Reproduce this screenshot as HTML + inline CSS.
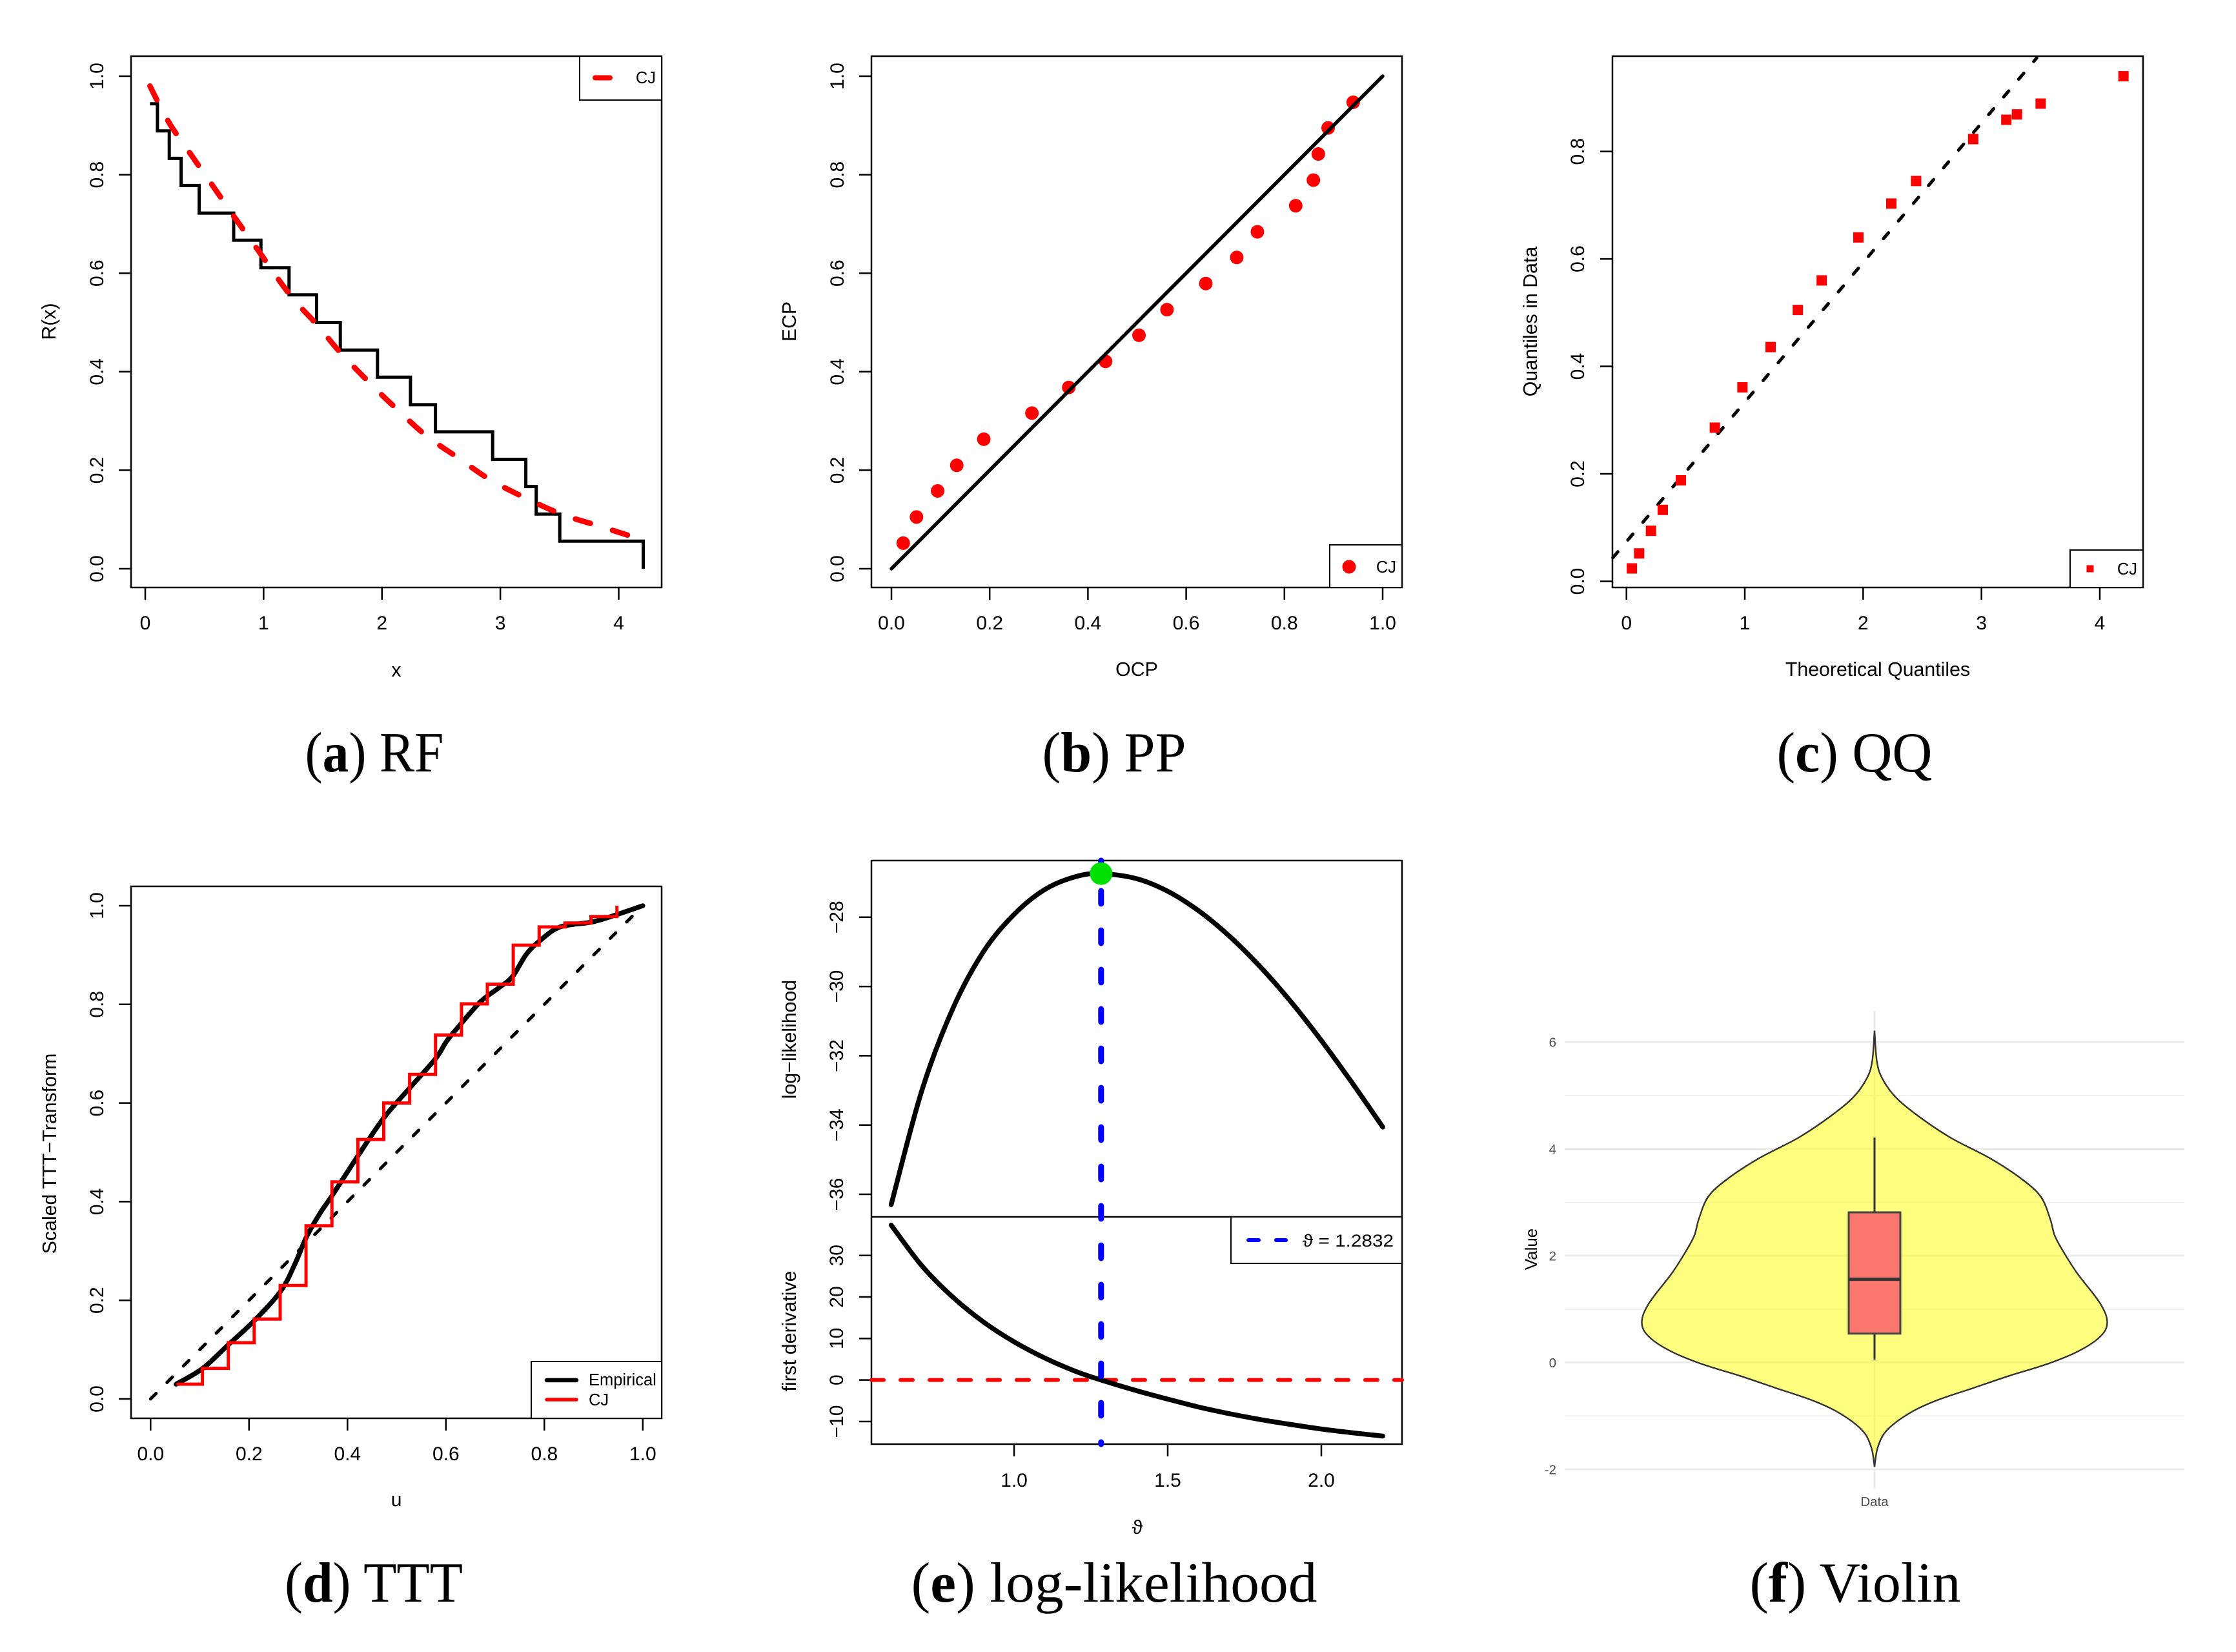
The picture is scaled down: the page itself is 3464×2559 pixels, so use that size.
<!DOCTYPE html>
<html lang="en">
<head>
<meta charset="utf-8">
<title>Diagnostic plots: RF, PP, QQ, TTT, log-likelihood, Violin</title>
<style>
html,body{margin:0;padding:0;background:#fff;}
svg{display:block;}
text{font-family:"Liberation Sans","DejaVu Sans",sans-serif;fill:#000;}
.cap{font-family:"Liberation Serif","DejaVu Serif",serif;font-size:88px;text-anchor:middle;}
.title{font-size:30.3px;text-anchor:middle;}
.leg{font-size:25.5px;}
.frame{fill:none;stroke:#000;stroke-width:2.5;}
.legbox{fill:#fff;stroke:#000;stroke-width:2;}
</style>
</head>
<body>
<svg id="fig" xmlns="http://www.w3.org/2000/svg" width="3464" height="2559" viewBox="0 0 3464 2559">
<rect width="3464" height="2559" fill="#fff"/>

<g id="pa">
  <rect class="frame" x="203" y="87" width="822" height="823"/>
  <text class="title" transform="rotate(-90 86 498)" x="86" y="498">R(x)</text>
  <text class="title" x="614" y="1048">x</text>
</g>
<g id="pb">
  <rect class="frame" x="1350" y="87" width="822" height="823"/>
  <text class="title" transform="rotate(-90 1233 498)" x="1233" y="498">ECP</text>
  <text class="title" x="1761" y="1047">OCP</text>
</g>
<g id="pc">
  <rect class="frame" x="2498" y="87" width="822" height="823"/>
  <text class="title" transform="rotate(-90 2381 498)" x="2381" y="498">Quantiles in Data</text>
  <text class="title" x="2909" y="1047">Theoretical Quantiles</text>
</g>
<g id="pd">
  <rect class="frame" x="203" y="1373" width="822" height="824"/>
  <text class="title" transform="rotate(-90 87 1787)" x="87" y="1787">Scaled TTT−Transform</text>
  <text class="title" x="614" y="2333">u</text>
</g>
<g id="pe">
  <rect class="frame" x="1350" y="1333" width="822" height="904"/>
  <line x1="1350" x2="2172" y1="1885" y2="1885" stroke="#000" stroke-width="2.5"/>
  <text class="title" transform="rotate(-90 1233 1610)" x="1233" y="1610">log−likelihood</text>
  <text class="title" transform="rotate(-90 1233 2062)" x="1233" y="2062">first derivative</text>
  <text class="title" x="1762" y="2376">ϑ</text>
</g>
<g id="pf">
  <text transform="rotate(-90 2381 1935)" x="2381" y="1935" font-size="26" text-anchor="middle">Value</text>
  <text x="2904" y="2333" font-size="20.5" text-anchor="middle" style="fill:#4d4d4d">Data</text>
</g>

<text class="cap" x="580" y="1195" textLength="215" lengthAdjust="spacingAndGlyphs">(<tspan font-weight="bold">a</tspan>) RF</text>
<text class="cap" x="1726" y="1195" textLength="223" lengthAdjust="spacingAndGlyphs">(<tspan font-weight="bold">b</tspan>) PP</text>
<text class="cap" x="2873" y="1195" textLength="241" lengthAdjust="spacingAndGlyphs">(<tspan font-weight="bold">c</tspan>) QQ</text>
<text class="cap" x="579" y="2481" textLength="276" lengthAdjust="spacingAndGlyphs">(<tspan font-weight="bold">d</tspan>) TTT</text>
<text class="cap" x="1726" y="2481" textLength="629" lengthAdjust="spacingAndGlyphs">(<tspan font-weight="bold">e</tspan>) log-likelihood</text>
<text class="cap" x="2874" y="2481" textLength="327" lengthAdjust="spacingAndGlyphs">(<tspan font-weight="bold">f</tspan>) Violin</text>
</svg>

<script>
/* ---------- data: RF panel ---------- */
const rfXTicks = [0, 1, 2, 3, 4];
const rfXLabels = ['0', '1', '2', '3', '4'];
const probTicks = [0, 0.2, 0.4, 0.6, 0.8, 1];
const probLabels = ['0.0', '0.2', '0.4', '0.6', '0.8', '1.0'];
const rfStepX = [0.04, 0.103, 0.203, 0.303, 0.456, 0.747, 0.977, 1.215, 1.448, 1.648, 1.962, 2.241, 2.452, 2.935, 3.215, 3.303, 3.502, 4.207];
const rfStepY = [0.944, 0.889, 0.833, 0.778, 0.722, 0.667, 0.611, 0.556, 0.5, 0.444, 0.389, 0.333, 0.278, 0.222, 0.167, 0.111, 0.056, 0];
const rfFitX = [0.04, 0.2, 0.4, 0.575, 0.747, 0.958, 1.226, 1.456, 1.648, 1.897, 2.126, 2.375, 2.644, 2.912, 3.218, 3.525, 3.83, 4.157];
const rfFitY = [0.98, 0.906, 0.836, 0.776, 0.716, 0.645, 0.555, 0.494, 0.439, 0.377, 0.324, 0.27, 0.225, 0.181, 0.143, 0.11, 0.087, 0.062];

/* ---------- data: PP panel ---------- */
const ppOcp = [0.024, 0.051, 0.094, 0.133, 0.188, 0.286, 0.361, 0.436, 0.504, 0.561, 0.64, 0.703, 0.745, 0.823, 0.859, 0.869, 0.889, 0.94];
const ppEcp = [0.052, 0.105, 0.158, 0.21, 0.263, 0.316, 0.368, 0.421, 0.474, 0.526, 0.579, 0.632, 0.684, 0.737, 0.789, 0.842, 0.895, 0.947];
const ppRefLine = [0, 1];

/* ---------- data: QQ panel ---------- */
const qqXTicks = [0, 1, 2, 3, 4];
const qqXLabels = ['0', '1', '2', '3', '4'];
const qqYTicks = [0, 0.2, 0.4, 0.6, 0.8];
const qqYLabels = ['0.0', '0.2', '0.4', '0.6', '0.8'];
const qqTheoretical = [0.046, 0.107, 0.207, 0.307, 0.46, 0.747, 0.98, 1.218, 1.448, 1.65, 1.96, 2.238, 2.448, 2.93, 3.21, 3.3, 3.5, 4.2];
const qqSample = [0.024, 0.052, 0.094, 0.133, 0.188, 0.286, 0.361, 0.436, 0.505, 0.56, 0.64, 0.703, 0.745, 0.823, 0.859, 0.869, 0.889, 0.94];
const qqLineX = [-0.115, 3.467];
const qqLineY = [0.044, 0.974];

/* ---------- data: TTT panel ---------- */
const tttU = [0.052, 0.106, 0.158, 0.21, 0.264, 0.293, 0.317, 0.344, 0.37, 0.422, 0.474, 0.526, 0.579, 0.602, 0.631, 0.671, 0.708, 0.735, 0.763, 0.791, 0.832, 0.897, 0.947, 1];
const tttV = [0.03, 0.062, 0.11, 0.158, 0.218, 0.273, 0.329, 0.376, 0.414, 0.494, 0.57, 0.63, 0.69, 0.726, 0.761, 0.806, 0.834, 0.856, 0.901, 0.929, 0.957, 0.967, 0.982, 1];
const tttStepU = [0.0526, 0.1053, 0.1579, 0.2105, 0.2632, 0.3158, 0.3684, 0.4211, 0.4737, 0.5263, 0.5789, 0.6316, 0.6842, 0.7368, 0.7895, 0.8421, 0.8947, 0.9474];
const tttStepV = [0.03, 0.062, 0.114, 0.162, 0.23, 0.351, 0.44, 0.526, 0.6, 0.658, 0.738, 0.801, 0.841, 0.92, 0.957, 0.965, 0.978, 1];
const tttDiagonal = [0, 1];

/* ---------- data: log-likelihood panel ---------- */
const thetaTicks = [1, 1.5, 2];
const thetaLabels = ['1.0', '1.5', '2.0'];
const llTicks = [-36, -34, -32, -30, -28];
const llLabels = ['−36', '−34', '−32', '−30', '−28'];
const derivTicks = [-10, 0, 10, 20, 30];
const derivLabels = ['−10', '0', '10', '20', '30'];
const llTheta = [0.6, 0.7, 0.8, 0.9, 1, 1.1, 1.2, 1.283, 1.4, 1.5, 1.6, 1.7, 1.8, 1.9, 2, 2.1, 2.2];
const llValue = [-36.3, -33.0, -30.65, -29.0, -27.92, -27.2, -26.83, -26.74, -26.89, -27.25, -27.81, -28.54, -29.42, -30.43, -31.56, -32.78, -34.06];
const derivTheta = [0.6, 0.7, 0.8, 0.9, 1, 1.1, 1.2, 1.283, 1.4, 1.5, 1.6, 1.7, 1.8, 1.9, 2, 2.1, 2.2];
const derivValue = [37.3, 27.5, 20.0, 14.0, 9.2, 5.3, 2.1, 0, -2.6, -4.6, -6.5, -8.1, -9.5, -10.7, -11.8, -12.7, -13.5];
const thetaHat = 1.2832;
const llAtHat = -26.74;

/* ---------- data: violin panel ---------- */
const violinMajor = [-2, 0, 2, 4, 6];
const violinMajorLabels = ['-2', '0', '2', '4', '6'];
const violinMinor = [-1, 1, 3, 5];
const violinValues = [6.21, 5.64, 5.32, 4.96, 4.61, 4.21, 3.81, 3.42, 3.1, 2.7, 2.38, 2.1, 1.67, 1.11, 0.75, 0.48, 0.2, -0.04, -0.25, -0.48, -0.71, -0.95, -1.27, -1.59, -1.95];
const violinDensity = [0, 0.01, 0.033, 0.092, 0.189, 0.326, 0.501, 0.637, 0.715, 0.754, 0.774, 0.808, 0.871, 0.969, 1, 0.969, 0.871, 0.735, 0.579, 0.423, 0.267, 0.15, 0.053, 0.014, 0];
const boxWhiskerLow = 0.055;
const boxQ1 = 0.54;
const boxMedian = 1.557;
const boxQ3 = 2.81;
const boxWhiskerHigh = 4.21;

/* ---------- helpers ---------- */
const NS = 'http://www.w3.org/2000/svg';
function mk(parent, tag, attrs, text) {
  const e = document.createElementNS(NS, tag);
  for (const k in attrs) e.setAttribute(k, attrs[k]);
  if (text !== undefined) e.textContent = text;
  parent.appendChild(e);
  return e;
}
function linear(d0, d1, r0, r1) {
  return v => r0 + (v - d0) * (r1 - r0) / (d1 - d0);
}
function smoothPath(px, py) {
  let d = 'M' + px[0].toFixed(1) + ' ' + py[0].toFixed(1);
  for (let i = 0; i < px.length - 1; i++) {
    const a = Math.max(i - 1, 0), b = Math.min(i + 2, px.length - 1);
    const c1x = px[i] + (px[i + 1] - px[a]) / 6, c1y = py[i] + (py[i + 1] - py[a]) / 6;
    const c2x = px[i + 1] - (px[b] - px[i]) / 6, c2y = py[i + 1] - (py[b] - py[i]) / 6;
    d += 'C' + c1x.toFixed(1) + ' ' + c1y.toFixed(1) + ' ' + c2x.toFixed(1) + ' ' + c2y.toFixed(1) + ' ' + px[i + 1].toFixed(1) + ' ' + py[i + 1].toFixed(1);
  }
  return d;
}
function stepPath(px, py) {
  let d = 'M' + px[0].toFixed(1) + ' ' + py[0].toFixed(1);
  for (let i = 1; i < px.length; i++) {
    d += 'H' + px[i].toFixed(1) + 'V' + py[i].toFixed(1);
  }
  return d;
}
function xAxis(g, values, labels, sx, yEdge, baseline) {
  values.forEach((v, i) => {
    const t = mk(g, 'line', {x1: sx(v), x2: sx(v), y1: yEdge, y2: yEdge + 19, stroke: '#000', 'stroke-width': 2.5});
    
    
    const l = mk(g, 'text', {x: sx(v), y: baseline, 'font-size': 30, 'text-anchor': 'middle'}, labels[i]);
    
    
  });
}
function yAxis(g, values, labels, sy, xEdge, baseline) {
  values.forEach((v, i) => {
    const t = mk(g, 'line', {x1: xEdge - 19, x2: xEdge, y1: sy(v), y2: sy(v), stroke: '#000', 'stroke-width': 2.5});
    
    
    const l = mk(g, 'text', {x: baseline, y: sy(v), 'font-size': 30, 'text-anchor': 'middle', transform: 'rotate(-90 ' + baseline + ' ' + sy(v) + ')'}, labels[i]);
    
    
  });
}
const PRED = '#ff0000';

/* ---------- RF ---------- */
(function () {
  const g = document.getElementById('pa');
  const sx = linear(0, 4, 225, 958.5), sy = linear(0, 1, 881, 118);
  xAxis(g, rfXTicks, rfXLabels, sx, 910, 975);
  yAxis(g, probTicks, probLabels, sy, 203, 160);
  const step = mk(g, 'path', {d: stepPath(rfStepX.map(sx), rfStepY.map(sy)), fill: 'none', stroke: '#000', 'stroke-width': 5});
  
  
  const fit = mk(g, 'path', {d: smoothPath(rfFitX.map(sx), rfFitY.map(sy)), fill: 'none', stroke: PRED, 'stroke-width': 8.5, 'stroke-dasharray': '24 36', 'stroke-linecap': 'round'});
  
  
  const box = mk(g, 'rect', {x: 898, y: 87, width: 127, height: 68, class: 'legbox'});
  
  
  const key = mk(g, 'line', {x1: 922, x2: 945, y1: 120.5, y2: 120.5, stroke: PRED, 'stroke-width': 8, 'stroke-linecap': 'round'});
  
  
  const txt = mk(g, 'text', {x: 1016, y: 129, class: 'leg', 'text-anchor': 'end'}, 'CJ');
  
  
})();

/* ---------- PP ---------- */
(function () {
  const g = document.getElementById('pb');
  const sx = linear(0, 1, 1381, 2142), sy = linear(0, 1, 881, 118);
  xAxis(g, probTicks, probLabels, sx, 910, 975);
  yAxis(g, probTicks, probLabels, sy, 1350, 1307);
  ppOcp.forEach((v, i) => {
    const c = mk(g, 'circle', {cx: sx(v), cy: sy(ppEcp[i]), r: 10.5, fill: PRED});
    
    
  });
  const ref = mk(g, 'line', {x1: sx(ppRefLine[0]), y1: sy(ppRefLine[0]), x2: sx(ppRefLine[1]), y2: sy(ppRefLine[1]), stroke: '#000', 'stroke-width': 5.5, 'stroke-linecap': 'round'});
  
  
  const box = mk(g, 'rect', {x: 2060, y: 844, width: 112, height: 66, class: 'legbox'});
  
  
  const key = mk(g, 'circle', {cx: 2090, cy: 878, r: 10.5, fill: PRED});
  
  
  const txt = mk(g, 'text', {x: 2163, y: 887, class: 'leg', 'text-anchor': 'end'}, 'CJ');
  
  
})();

/* ---------- QQ ---------- */
(function () {
  const g = document.getElementById('pc');
  const sx = linear(0, 4, 2519.7, 3253), sy = linear(0, 0.8, 900.5, 234.6);
  xAxis(g, qqXTicks, qqXLabels, sx, 910, 975);
  yAxis(g, qqYTicks, qqYLabels, sy, 2498, 2454);
  const line = mk(g, 'line', {x1: sx(qqLineX[0]), y1: sy(qqLineY[0]), x2: sx(qqLineX[1]), y2: sy(qqLineY[1]), stroke: '#000', 'stroke-width': 5, 'stroke-dasharray': '12 24', 'stroke-linecap': 'round'});
  
  
  qqTheoretical.forEach((v, i) => {
    const r = mk(g, 'rect', {x: sx(v) - 8, y: sy(qqSample[i]) - 8, width: 16, height: 16, fill: PRED});
    
    
  });
  const box = mk(g, 'rect', {x: 3207, y: 852, width: 113, height: 58, class: 'legbox'});
  
  
  const key = mk(g, 'rect', {x: 3232.5, y: 875.5, width: 11, height: 11, fill: PRED});
  
  
  const txt = mk(g, 'text', {x: 3311, y: 890, class: 'leg', 'text-anchor': 'end'}, 'CJ');
  
  
})();

/* ---------- TTT ---------- */
(function () {
  const g = document.getElementById('pd');
  const sx = linear(0, 1, 233.3, 995.8), sy = linear(0, 1, 2167, 1403);
  xAxis(g, probTicks, probLabels, sx, 2197, 2262);
  yAxis(g, probTicks, probLabels, sy, 203, 160);
  const diag = mk(g, 'line', {x1: sx(tttDiagonal[0]), y1: sy(tttDiagonal[0]), x2: sx(tttDiagonal[1]), y2: sy(tttDiagonal[1]), stroke: '#000', 'stroke-width': 5, 'stroke-dasharray': '12 24', 'stroke-linecap': 'round'});
  
  
  const emp = mk(g, 'path', {d: smoothPath(tttU.map(sx), tttV.map(sy)), fill: 'none', stroke: '#000', 'stroke-width': 7.5, 'stroke-linecap': 'round'});
  
  
  const st = mk(g, 'path', {d: stepPath(tttStepU.map(sx), tttStepV.map(sy)), fill: 'none', stroke: PRED, 'stroke-width': 5});
  
  
  const box = mk(g, 'rect', {x: 823, y: 2109, width: 202, height: 88, class: 'legbox'});
  
  
  const k1 = mk(g, 'line', {x1: 847, x2: 893, y1: 2138, y2: 2138, stroke: '#000', 'stroke-width': 6.5, 'stroke-linecap': 'round'});
  
  
  const k2 = mk(g, 'line', {x1: 847, x2: 893, y1: 2168, y2: 2168, stroke: PRED, 'stroke-width': 5.5, 'stroke-linecap': 'round'});
  
  
  const t1 = mk(g, 'text', {x: 912, y: 2146, class: 'leg'}, 'Empirical');
  
  
  const t2 = mk(g, 'text', {x: 912, y: 2177, class: 'leg'}, 'CJ');
  
  
})();

/* ---------- log-likelihood ---------- */
(function () {
  const g = document.getElementById('pe');
  const sx = linear(1, 2, 1571, 2047);
  const syTop = linear(-36, -28, 1850, 1420.8);
  const syBot = linear(-10, 30, 2202, 1944.7);
  xAxis(g, thetaTicks, thetaLabels, sx, 2237, 2303);
  yAxis(g, llTicks, llLabels, syTop, 1350, 1306);
  yAxis(g, derivTicks, derivLabels, syBot, 1350, 1306);
  const red = mk(g, 'line', {x1: 1350, x2: 2172, y1: syBot(0), y2: syBot(0), stroke: PRED, 'stroke-width': 6, 'stroke-dasharray': '19 26', 'stroke-linecap': 'round'});
  
  
  const ll = mk(g, 'path', {d: smoothPath(llTheta.map(sx), llValue.map(syTop)), fill: 'none', stroke: '#000', 'stroke-width': 7.5, 'stroke-linecap': 'round'});
  
  
  const dv = mk(g, 'path', {d: smoothPath(derivTheta.map(sx), derivValue.map(syBot)), fill: 'none', stroke: '#000', 'stroke-width': 7.5, 'stroke-linecap': 'round'});
  
  
  const blue = mk(g, 'line', {x1: sx(thetaHat), x2: sx(thetaHat), y1: 1333, y2: 2237, stroke: '#0000ff', 'stroke-width': 9, 'stroke-dasharray': '20 41', 'stroke-dashoffset': 14, 'stroke-linecap': 'round'});
  
  
  const dot = mk(g, 'circle', {cx: sx(thetaHat), cy: syTop(llAtHat), r: 17.5, fill: '#00e000'});
  
  
  const box = mk(g, 'rect', {x: 1907, y: 1885, width: 265, height: 72, class: 'legbox'});
  
  
  const key = mk(g, 'line', {x1: 1934, x2: 1992, y1: 1921, y2: 1921, stroke: '#0000ff', 'stroke-width': 6, 'stroke-dasharray': '16 27', 'stroke-linecap': 'round'});
  
  
  const txt = mk(g, 'text', {x: 2018, y: 1931, 'font-size': 27, textLength: 141, lengthAdjust: 'spacingAndGlyphs'}, 'ϑ = 1.2832');
  
  
})();

/* ---------- violin ---------- */
(function () {
  const g = document.getElementById('pf');
  const sy = linear(-2, 6, 2276, 1614);
  const cx = 2904, maxHalf = 360.5, left = 2424, right = 3384;
  violinMinor.forEach(v => {
    const l = mk(g, 'line', {x1: left, x2: right, y1: sy(v), y2: sy(v), stroke: '#eeeeee', 'stroke-width': 1.5});
    
    
  });
  violinMajor.forEach((v, i) => {
    const l = mk(g, 'line', {x1: left, x2: right, y1: sy(v), y2: sy(v), stroke: '#ebebeb', 'stroke-width': 3});
    
    
    const t = mk(g, 'text', {x: 2411, y: sy(v) + 7.5, 'font-size': 20.5, 'text-anchor': 'end', style: 'fill:#4d4d4d'}, violinMajorLabels[i]);
    
    
  });
  const vg = mk(g, 'line', {x1: cx, x2: cx, y1: 1566, y2: 2305, stroke: '#ebebeb', 'stroke-width': 3});
  
  
  const ys = violinValues.map(sy);
  const rightX = violinDensity.map(d => cx + d * maxHalf);
  const leftX = violinDensity.map(d => cx - d * maxHalf);
  const revY = ys.slice().reverse();
  const revL = leftX.slice().reverse();
  const d = smoothPath(rightX, ys) + smoothPath(revL, revY).replace(/^M[^C]*/, '') + 'Z';
  const shape = mk(g, 'path', {d: d, fill: 'rgba(255,255,0,0.5)', stroke: '#333333', 'stroke-width': 2.4});
  
  
  const whisk = mk(g, 'line', {x1: cx, x2: cx, y1: sy(boxWhiskerHigh), y2: sy(boxWhiskerLow), stroke: '#333333', 'stroke-width': 3});
  
  
  const bx = mk(g, 'rect', {x: cx - 40, y: sy(boxQ3), width: 80, height: sy(boxQ1) - sy(boxQ3), fill: '#fb766d', stroke: '#444444', 'stroke-width': 3});
  
  
  const med = mk(g, 'line', {x1: cx - 40, x2: cx + 40, y1: sy(boxMedian), y2: sy(boxMedian), stroke: '#333333', 'stroke-width': 5});
  
  
})();
</script>
</body>
</html>
